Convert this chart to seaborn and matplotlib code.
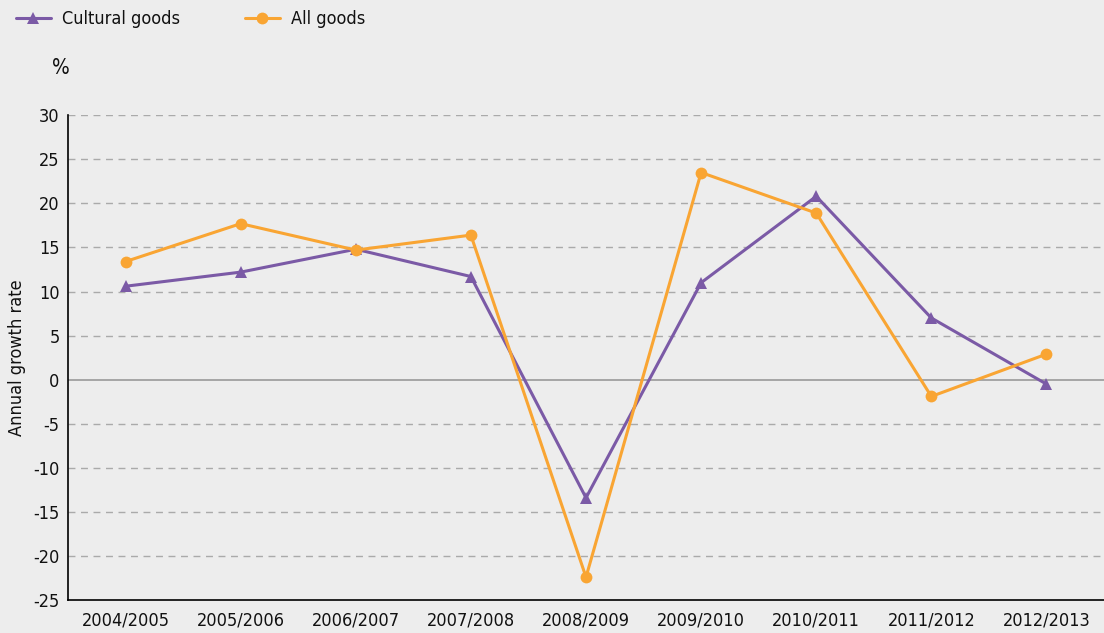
import matplotlib.pyplot as plt
import pandas as pd
import seaborn as sns
from matplotlib.lines import Line2D

# data
periods = ["2004/2005", "2005/2006", "2006/2007", "2007/2008", "2008/2009",
           "2009/2010", "2010/2011", "2011/2012", "2012/2013"]
cultural_goods = [10.6, 12.2, 14.8, 11.7, -13.4, 11.0, 20.8, 7.0, -0.5]
all_goods = [13.4, 17.7, 14.7, 16.4, -22.4, 23.5, 18.9, -1.9, 2.9]
series_names = ["Cultural goods", "All goods"]
y_ticks = list(range(-25, 31, 5))

purple = "#7b5aa6"
orange = "#f9a533"
bg = "#ededed"
ink = "#111111"

df = pd.DataFrame({
    "period": periods * 2,
    "pos": list(range(len(periods))) * 2,
    "rate": cultural_goods + all_goods,
    "series": [series_names[0]] * len(periods) + [series_names[1]] * len(periods),
})

sns.set_style("white")
plt.rcParams["font.family"] = ["DejaVu Sans"]
plt.rcParams["font.stretch"] = "condensed"
plt.rcParams["text.color"] = ink
plt.rcParams["xtick.color"] = ink
plt.rcParams["ytick.color"] = ink
plt.rcParams["axes.labelcolor"] = ink

fig = plt.figure(figsize=(11.04, 6.33), dpi=100, facecolor=bg)
ax = fig.add_axes([0.0616, 0.052, 0.9384, 0.766])
ax.set_facecolor(bg)

sns.lineplot(data=df, x="pos", y="rate", hue="series", style="series",
             palette={series_names[0]: purple, series_names[1]: orange},
             markers={series_names[0]: "^", series_names[1]: "o"},
             dashes=False, markersize=8.5, markeredgewidth=0, linewidth=2.2,
             legend=False, ax=ax)

ax.set_xlim(-0.5, len(periods) - 0.5)
ax.set_ylim(-25, 30)
ax.set_yticks(y_ticks)
ax.set_yticklabels([str(v) for v in y_ticks], fontsize=13)
ax.set_xticks(range(len(periods)))
ax.set_xticklabels(periods, fontsize=13)
ax.set_xticks([i + 0.5 for i in range(len(periods) - 1)], minor=True)
ax.tick_params(axis="x", which="major", length=0, pad=8)
ax.tick_params(axis="x", which="minor", length=4, color="#aaaaaa", width=1)
ax.tick_params(axis="y", length=3, color="#aaaaaa", pad=3)

for v in y_ticks:
    if v == 0:
        ax.axhline(0, color="#999999", linewidth=1.2, zorder=0)
    elif v != -25:
        ax.axhline(v, color="#aaaaaa", linewidth=1, linestyle=(0, (5, 4)), zorder=0)

for side in ["top", "right"]:
    ax.spines[side].set_visible(False)
ax.spines["left"].set_color("black")
ax.spines["bottom"].set_color("black")
ax.spines["left"].set_linewidth(1.2)
ax.spines["bottom"].set_linewidth(1.2)

ax.set_xlabel("")
ax.set_ylabel("Annual growth rate", fontsize=13, labelpad=5)
fig.text(0.047, 0.893, "%", fontsize=15, ha="left", va="center")

handles = [
    Line2D([], [], color=purple, marker="^", markersize=8.5, markeredgewidth=0, linewidth=2.2),
    Line2D([], [], color=orange, marker="o", markersize=8.5, markeredgewidth=0, linewidth=2.2),
]
fig.legend(handles, series_names, loc="upper left", bbox_to_anchor=(0.0, 1.01),
           ncol=2, frameon=False, fontsize=13, handlelength=1.9,
           columnspacing=3.6, handletextpad=0.65)

fig.savefig("out.png", dpi=100, facecolor=bg)
